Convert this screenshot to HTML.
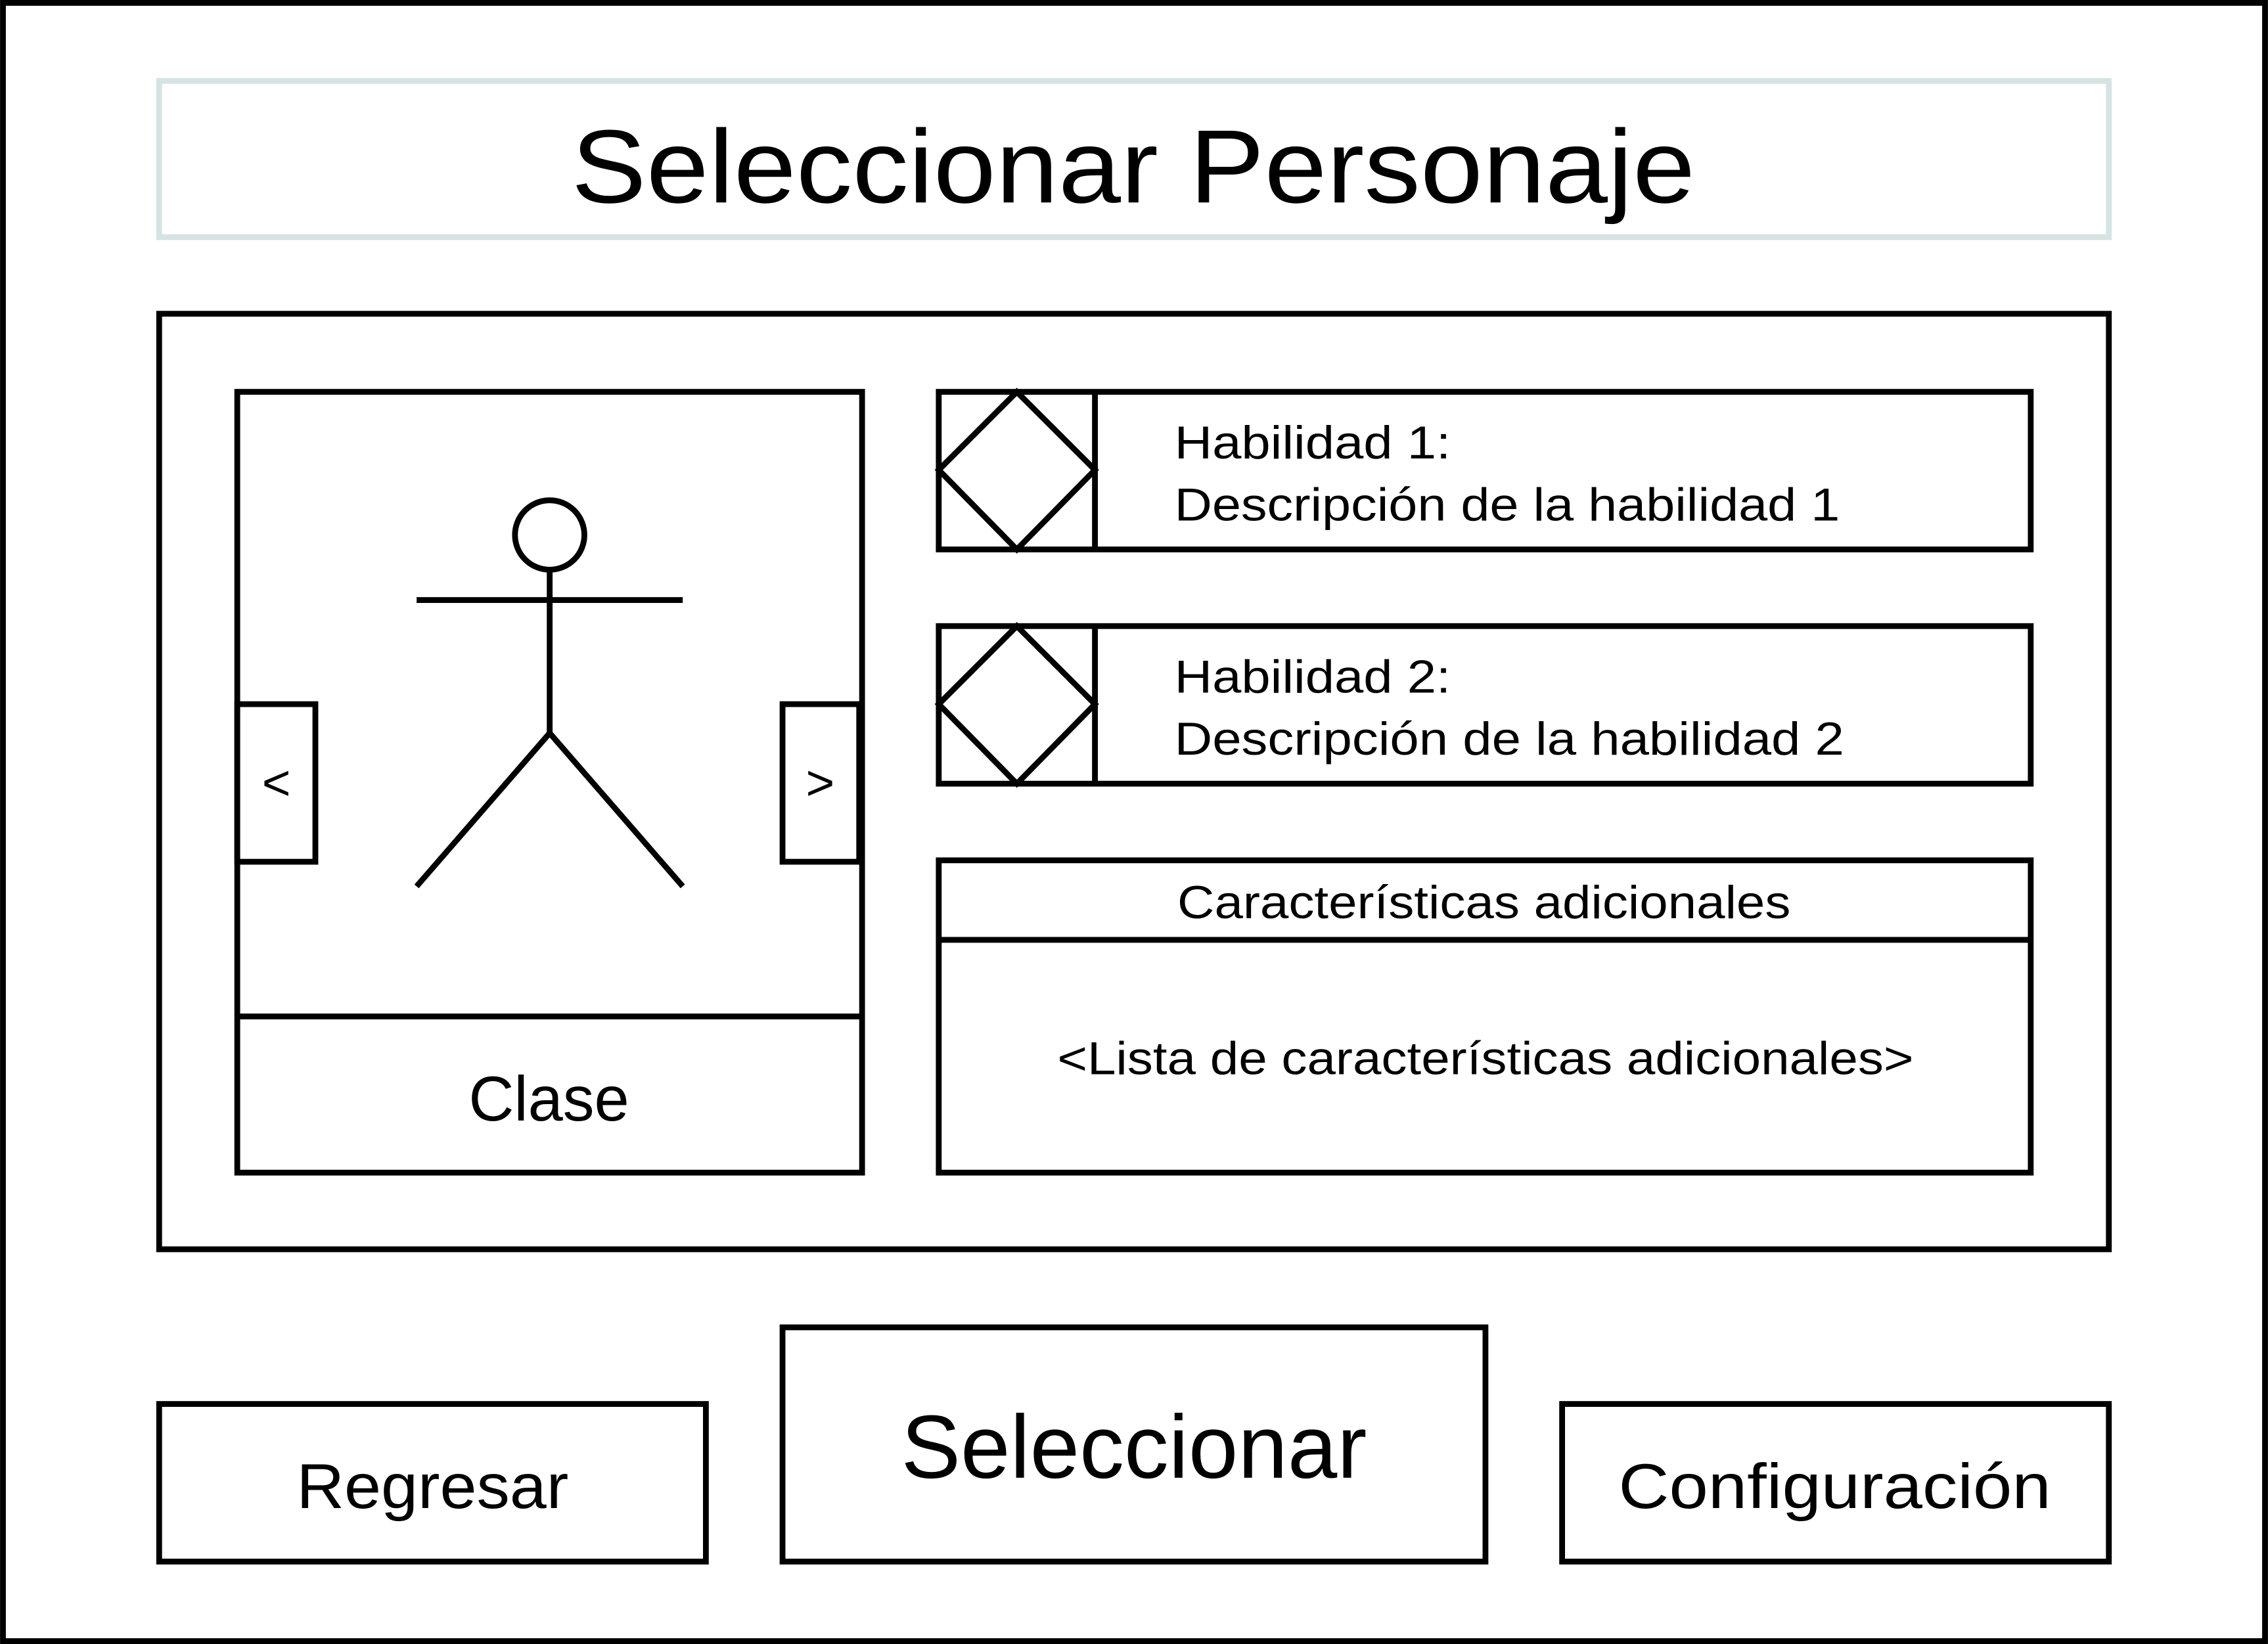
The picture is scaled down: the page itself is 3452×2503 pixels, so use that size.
<!DOCTYPE html>
<html><head><meta charset="utf-8"><style>html,body{margin:0;padding:0;background:#fff}svg{display:block}</style></head><body>
<svg width="3452" height="2503" viewBox="0 0 1568 1137" xmlns="http://www.w3.org/2000/svg" font-family="'Liberation Sans', sans-serif" fill="none" stroke="#000">
<rect x="2" y="2" width="1564" height="1133" stroke-width="4" fill="#fff"/>
<rect x="110" y="56" width="1348" height="108" stroke="#d5e3e3" stroke-width="4"/>
<g stroke-width="4">
<rect x="110" y="217" width="1348" height="647"/>
<rect x="164" y="271" width="432" height="540"/>
<line x1="164" y1="703" x2="596" y2="703"/>
<rect x="164" y="487" width="54" height="109"/>
<rect x="541" y="487" width="53" height="109"/>
<circle cx="380" cy="370" r="24"/>
<line x1="288" y1="415" x2="472" y2="415"/>
<line x1="380" y1="394" x2="380" y2="507"/>
<polyline points="288,613 380,507 472,613"/>
<rect x="649" y="271" width="755" height="109"/>
<line x1="757" y1="271" x2="757" y2="380"/>
<polygon points="703,271 757,325 703,380 649,325"/>
<rect x="649" y="433" width="755" height="109"/>
<line x1="757" y1="433" x2="757" y2="542"/>
<polygon points="703,433 757,487 703,542 649,487"/>
<rect x="649" y="595" width="755" height="216"/>
<line x1="649" y1="650" x2="1404" y2="650"/>
<rect x="110" y="971" width="378" height="109"/>
<rect x="541" y="918" width="486" height="162"/>
<rect x="1080" y="971" width="378" height="109"/>
</g>
<g fill="#000" stroke="none" lengthAdjust="spacingAndGlyphs">
<text x="395" y="140" font-size="72" textLength="777" lengthAdjust="spacingAndGlyphs">Seleccionar Personaje</text>
<text x="324" y="775" font-size="44" textLength="111" lengthAdjust="spacingAndGlyphs">Clase</text>
<text x="191" y="553" font-size="34" text-anchor="middle">&lt;</text>
<text x="567" y="553" font-size="34" text-anchor="middle">&gt;</text>
<text x="812" y="317" font-size="32" textLength="191" lengthAdjust="spacingAndGlyphs">Habilidad 1:</text>
<text x="812" y="360" font-size="32" textLength="460" lengthAdjust="spacingAndGlyphs">Descripción de la habilidad 1</text>
<text x="812" y="479" font-size="32" textLength="191" lengthAdjust="spacingAndGlyphs">Habilidad 2:</text>
<text x="812" y="522" font-size="32" textLength="463" lengthAdjust="spacingAndGlyphs">Descripción de la habilidad 2</text>
<text x="814" y="635" font-size="32" textLength="424" lengthAdjust="spacingAndGlyphs">Características adicionales</text>
<text x="731" y="743" font-size="32" textLength="592" lengthAdjust="spacingAndGlyphs">&lt;Lista de características adicionales&gt;</text>
<text x="205" y="1043" font-size="44" textLength="188" lengthAdjust="spacingAndGlyphs">Regresar</text>
<text x="623" y="1022" font-size="62" textLength="322" lengthAdjust="spacingAndGlyphs">Seleccionar</text>
<text x="1119" y="1043" font-size="44" textLength="299" lengthAdjust="spacingAndGlyphs">Configuración</text>
</g>
</svg>
</body></html>
